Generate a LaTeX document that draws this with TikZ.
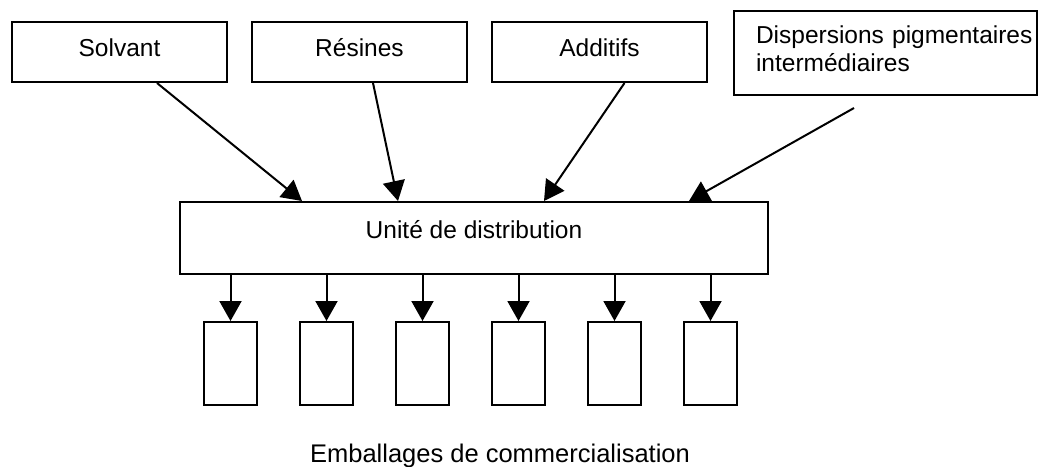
\documentclass[tikz,border=0pt]{standalone}
\usepackage{fontspec}
\setmainfont{Liberation Sans}
\usetikzlibrary{arrows.meta}

\begin{document}
\begin{tikzpicture}[x=1pt,y=-1pt,line width=2pt,
  ->,>={Triangle[length=20pt,width=22pt]}]
   \useasboundingbox (0,0) rectangle (1038,466);
   \tikzstyle{main}=[rectangle, draw=black, -, inner sep=0pt, font=\fontsize{24.5}{28}\selectfont]
   \tikzstyle{input}=[main, minimum width=215pt, minimum height=60pt, text height=34pt, text depth=26pt]
   \tikzstyle{pot}=[main, minimum width=53pt, minimum height=83pt]
   % produits de base
   \node[input] (solvant) at (119.5,52) {Solvant};
   \node[input] (resines) at (359.5,52) {Résines};
   \node[input] (additifs) at (599.5,52) {Additifs};
   \node[main, anchor=north west, text width=259pt, inner xsep=22pt, align=left,
         text height=32pt, text depth=52pt] (dispersions) at (733,10)
         {\mbox{Dispersions pigmentaires}\\intermédiaires};
   \node[main, minimum width=588pt, text height=36pt, text depth=36pt] (unite) at (474,238) {Unité de distribution};
   \path ([xshift=37.5pt]solvant.south) edge ([xshift=-172pt]unite.north);
   \path ([xshift=13.5pt]resines.south) edge ([xshift=-76pt]unite.north);
   \path ([xshift=25pt]additifs.south) edge ([xshift=70pt]unite.north);
   \coordinate (dstart) at ([xshift=-31.5pt,yshift=-12pt]dispersions.south);
   \path (dstart) edge ([xshift=215pt]unite.north);
   % emballages
   \foreach \i in {0,...,5} {
       \node[pot] (pot\i) at ({230.5+96*\i},363.5) {};
       \path (unite.south -| pot\i.north) edge (pot\i.north);
   }
   \node[font=\fontsize{25.5}{28}\selectfont, anchor=base] (emballages) at (500,462) {Emballages de commercialisation};
\end{tikzpicture}
\end{document}
